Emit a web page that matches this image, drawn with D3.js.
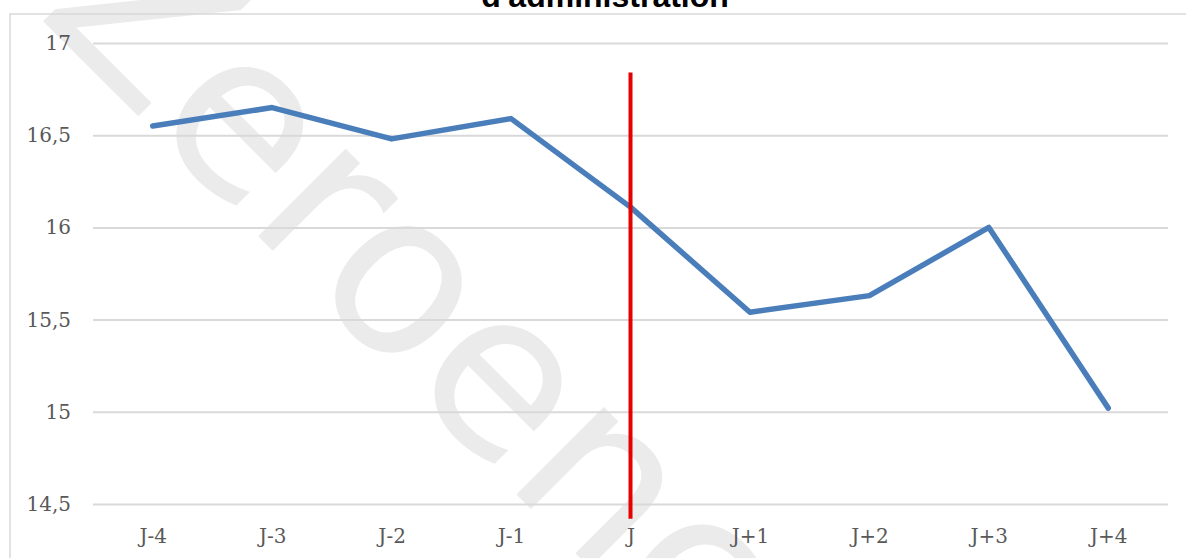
<!DOCTYPE html>
<html>
<head>
<meta charset="utf-8">
<script src="https://cdn.jsdelivr.net/npm/d3@7"></script>
<style>
  body { margin: 0; background: #fff; }
  svg { display: block; }
</style>
</head>
<body>
<svg id="svg"></svg>
<script>
const w = 1186;
const h = 558;

// data
const days = ["J-4", "J-3", "J-2", "J-1", "J", "J+1", "J+2", "J+3", "J+4"];
const values = [16.55, 16.65, 16.48, 16.59, 16.11, 15.54, 15.63, 16.0, 15.02];
const yTicks = [14.5, 15, 15.5, 16, 16.5, 17];
const markerDay = "J";
const markerRange = [16.84, 14.42];
const titleText = "d'administration";
const watermarkText = "Zeroenc";

const margin = { top: 43, right: 18, bottom: 54, left: 93 };

let svg = d3.select("#svg").attr("width", w).attr("height", h);

let xScale = d3.scalePoint(days, [margin.left, w - margin.right]).padding(0.5);
let yScale = d3.scaleLinear([14.5, 17], [h - margin.bottom, margin.top]);

// watermark
svg
  .append("text")
  .attr("transform", "translate(36,14) rotate(45)")
  .attr("font-family", "DejaVu Sans")
  .attr("font-size", 226)
  .attr("fill", "#ebebeb")
  .text(watermarkText);

// chart frame
svg
  .append("rect")
  .attr("x", 10)
  .attr("y", 14)
  .attr("width", w)
  .attr("height", h)
  .attr("fill", "none")
  .attr("stroke", "#d9d9d9")
  .attr("stroke-width", 1.5);

// title (only its last line is in view, as in the source)
svg
  .append("text")
  .attr("x", 605)
  .attr("y", 7)
  .attr("text-anchor", "middle")
  .attr("font-family", "Liberation Sans, Arial")
  .attr("font-weight", "bold")
  .attr("font-size", 32)
  .attr("fill", "#000")
  .text(titleText);

// gridlines + y labels
let yAxis = svg
  .append("g")
  .attr("transform", `translate(${margin.left},0)`)
  .call(
    d3
      .axisLeft(yScale)
      .tickValues(yTicks)
      .tickSize(-(w - margin.left - margin.right))
      .tickPadding(22)
      .tickFormat((d) => String(d).replace(".", ","))
  );
yAxis.select(".domain").remove();
yAxis.selectAll("line").attr("stroke", "#d9d9d9").attr("stroke-width", 2);
yAxis
  .selectAll("text")
  .attr("font-family", "DejaVu Serif")
  .attr("font-size", 20)
  .attr("fill", "#595959");

// x labels
let xAxis = svg
  .append("g")
  .attr("transform", `translate(0,${h - margin.bottom})`)
  .call(d3.axisBottom(xScale).tickSize(0).tickPadding(25));
xAxis.select(".domain").remove();
xAxis
  .selectAll("text")
  .attr("font-family", "DejaVu Serif")
  .attr("font-size", 20)
  .attr("fill", "#595959");

// series
let lineFunc = d3
  .line()
  .x((d, i) => xScale(days[i]))
  .y((d) => yScale(d));

svg
  .append("path")
  .datum(values)
  .attr("fill", "none")
  .attr("stroke", "#4a7ebb")
  .attr("stroke-width", 5.5)
  .attr("stroke-linejoin", "round")
  .attr("stroke-linecap", "round")
  .attr("d", lineFunc);

// red marker on day J
svg
  .append("line")
  .attr("x1", xScale(markerDay))
  .attr("x2", xScale(markerDay))
  .attr("y1", yScale(markerRange[0]))
  .attr("y2", yScale(markerRange[1]))
  .attr("stroke", "#e60000")
  .attr("stroke-width", 4);
</script>
</body>
</html>
